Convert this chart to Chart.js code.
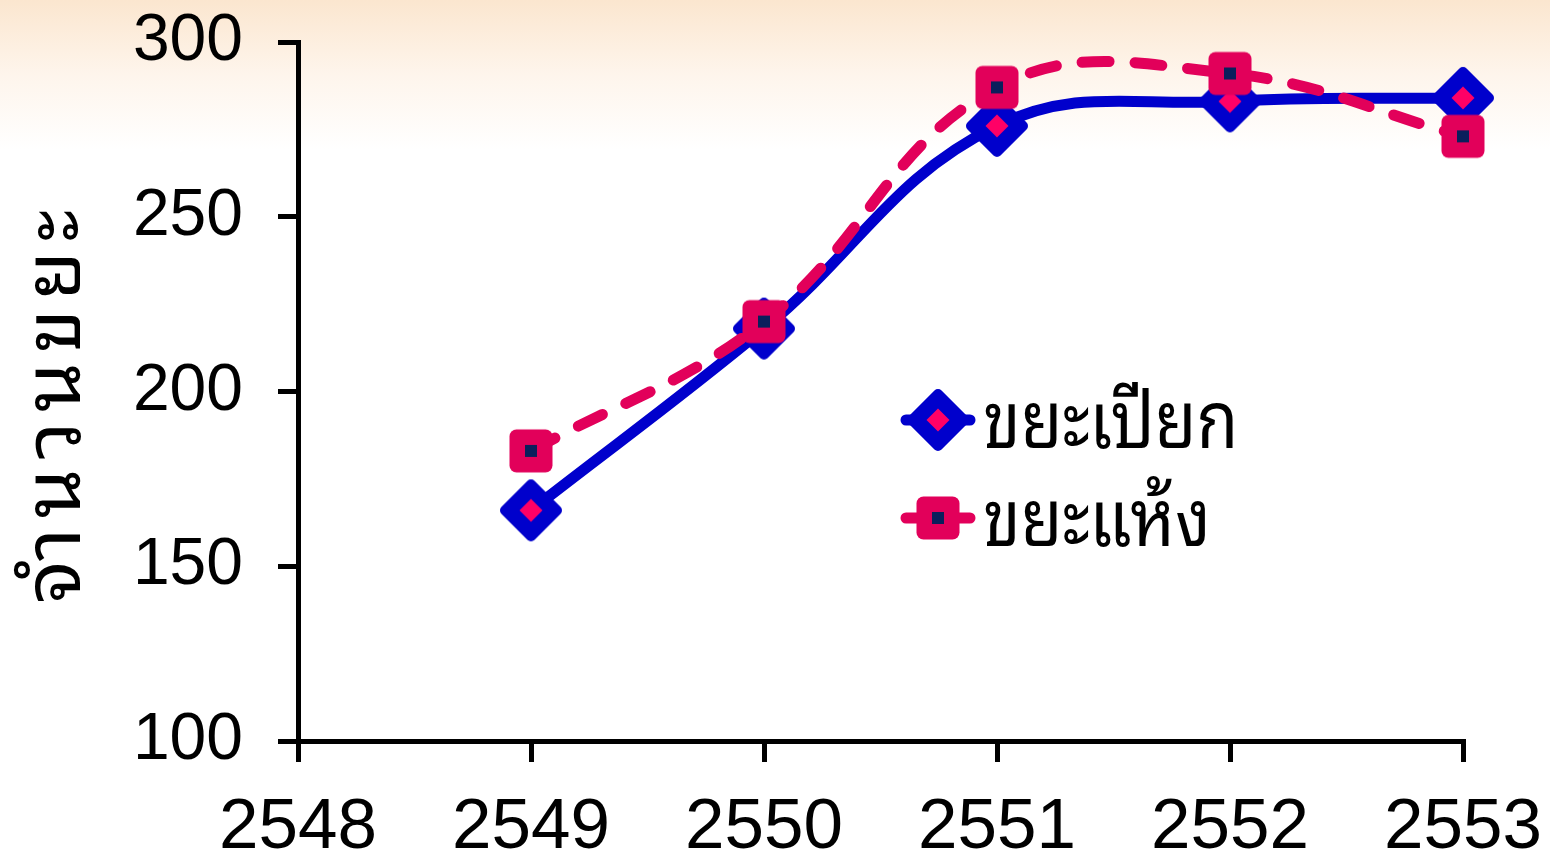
<!DOCTYPE html>
<html>
<head>
<meta charset="utf-8">
<script src="https://cdn.jsdelivr.net/npm/chart.js@4.4.1/dist/chart.umd.min.js"></script>
<style>
  html, body { margin: 0; padding: 0; background: #ffffff; }
  #wrap { width: 1550px; height: 854px; position: relative; }
</style>
</head>
<body>
<div id="wrap"><canvas id="chart"></canvas></div>
<script>
// Years (Thai Buddhist calendar) and waste amounts
const years = ['2548', '2549', '2550', '2551', '2552', '2553'];
const wetWaste = [null, 166, 218, 276, 283, 284];
const dryWaste = [null, 183, 220, 287, 291, 273];
const seriesNames = ['ขยะเปียก', 'ขยะแห้ง'];
const yTitle = 'จำนวนขยะ';
const yMin = 100, yMax = 300, yStep = 50;

const BLUE = '#0000CC';
const PINK = '#FF0066';
const CRIMSON = '#E2005A';
const NAVY = '#0A1F5C';
const THAI_FONT = "'Noto Sans Thai Looped', Loma, Garuda, Tahoma, 'Noto Sans', sans-serif";
const NUM_FONT = "'Liberation Sans', Arial, sans-serif";

// Diamond marker: blue rounded diamond with a pink centre
function diamondMarker() {
  const c = document.createElement('canvas');
  c.width = 68; c.height = 68;
  const g = c.getContext('2d');
  g.translate(34, 34);
  const h = 26;
  g.beginPath();
  g.moveTo(0, -h); g.lineTo(h, 0); g.lineTo(0, h); g.lineTo(-h, 0); g.closePath();
  g.fillStyle = BLUE; g.strokeStyle = BLUE; g.lineWidth = 10; g.lineJoin = 'round';
  g.fill(); g.stroke();
  const s = 11.5;
  g.beginPath();
  g.moveTo(0, -s); g.lineTo(s, 0); g.lineTo(0, s); g.lineTo(-s, 0); g.closePath();
  g.fillStyle = PINK; g.fill();
  return c;
}

// Square marker: crimson rounded square with a navy centre
function squareMarker() {
  const c = document.createElement('canvas');
  c.width = 46; c.height = 46;
  const g = c.getContext('2d');
  g.translate(23, 23);
  g.fillStyle = CRIMSON;
  g.beginPath();
  g.roundRect(-21.5, -21.5, 43, 43, 7);
  g.fill();
  g.fillStyle = NAVY;
  g.fillRect(-6, -6, 12, 12);
  return c;
}

// Peach haze along the top edge of the canvas
const topHaze = {
  id: 'topHaze',
  beforeDraw(chart) {
    const { ctx, width, height } = chart;
    ctx.save();
    ctx.fillStyle = '#ffffff';
    ctx.fillRect(0, 0, width, height);
    const gr = ctx.createLinearGradient(0, 0, 0, 150);
    gr.addColorStop(0, 'rgb(251,230,207)');
    gr.addColorStop(0.5, 'rgb(254,245,236)');
    gr.addColorStop(1, 'rgb(255,255,255)');
    ctx.fillStyle = gr;
    ctx.fillRect(0, 0, width, 150);
    ctx.restore();
  }
};

// Rotated axis title along the left edge
const sideTitle = {
  id: 'sideTitle',
  afterDraw(chart, args, opts) {
    const ctx = chart.ctx;
    ctx.save();
    ctx.translate(opts.x, opts.y);
    ctx.rotate(-Math.PI / 2);
    ctx.fillStyle = '#000';
    ctx.font = opts.fontSize + 'px ' + THAI_FONT;
    ctx.letterSpacing = opts.spacing + 'px';
    ctx.textAlign = 'center';
    ctx.textBaseline = 'middle';
    ctx.fillText(yTitle, 0, 0);
    ctx.restore();
  }
};

// Legend drawn inside the plot: line stub, marker, label
const insideLegend = {
  id: 'insideLegend',
  afterDatasetsDraw(chart, args, opts) {
    const ctx = chart.ctx;
    [0, 1].forEach((i) => {
      const ds = chart.data.datasets[i];
      const y = opts.rows[i];
      ctx.save();
      ctx.strokeStyle = ds.borderColor;
      ctx.lineWidth = ds.borderWidth;
      ctx.lineCap = 'round';
      ctx.beginPath();
      ctx.moveTo(opts.x + 6, y);
      ctx.lineTo(opts.x + opts.stub - 6, y);
      ctx.stroke();
      const img = ds.pointStyle;
      ctx.drawImage(img, opts.x + opts.stub / 2 - img.width / 2, y - img.height / 2);
      ctx.translate(opts.textX, y + opts.textDy);
      ctx.scale(opts.squeeze, 1);
      ctx.fillStyle = '#000';
      ctx.font = opts.fontSize + 'px ' + THAI_FONT;
      ctx.textBaseline = 'middle';
      ctx.textAlign = 'left';
      ctx.fillText(ds.label, 0, 0);
      ctx.restore();
    });
  }
};

const ctx = document.getElementById('chart');
new Chart(ctx, {
  type: 'line',
  data: {
    labels: years,
    datasets: [
      {
        label: seriesNames[0],
        data: wetWaste,
        borderColor: BLUE,
        borderWidth: 11,
        tension: 0.4,
        pointStyle: diamondMarker(),
        pointRadius: 31,
        order: 2,
        spanGaps: false
      },
      {
        label: seriesNames[1],
        data: dryWaste,
        borderColor: CRIMSON,
        borderWidth: 11,
        borderDash: [27, 26],
        borderCapStyle: 'round',
        tension: 0.4,
        pointStyle: squareMarker(),
        pointRadius: 22,
        order: 1,
        spanGaps: false
      }
    ]
  },
  options: {
    responsive: true,
    maintainAspectRatio: false,
    animation: false,
    events: [],
    layout: { padding: { top: 38, right: 87, left: 0, bottom: 0 } },
    plugins: {
      legend: { display: false },
      tooltip: { enabled: false },
      insideLegend: { x: 900, stub: 76, rows: [420, 518], textX: 983, fontSize: 80, squeeze: 0.85, textDy: 5 },
      sideTitle: { x: 57, y: 402, fontSize: 80, spacing: 9 }
    },
    scales: {
      x: {
        type: 'category',
        offset: false,
        grid: { display: true, drawOnChartArea: false, drawTicks: true, tickLength: 21, color: '#000', lineWidth: 5, offset: false },
        border: { display: true, color: '#000', width: 5 },
        ticks: {
          autoSkip: false, maxRotation: 0, minRotation: 0, padding: 24,
          color: '#000', font: { family: NUM_FONT, size: 71 }
        },
        afterFit(scale) {
          scale.height = 113;
          scale.paddingLeft = 0; scale.paddingRight = 0;
        }
      },
      y: {
        min: yMin, max: yMax,
        grid: { display: true, drawOnChartArea: false, drawTicks: true, tickLength: 20, color: '#000', lineWidth: 5 },
        border: { display: true, color: '#000', width: 5 },
        ticks: {
          stepSize: yStep, padding: 35,
          color: '#000', font: { family: NUM_FONT, size: 66 }
        },
        afterFit(scale) {
          scale.width = 298;
          scale.paddingTop = 0; scale.paddingBottom = 0;
        }
      }
    }
  },
  plugins: [topHaze, insideLegend, sideTitle]
});
</script>
</body>
</html>
